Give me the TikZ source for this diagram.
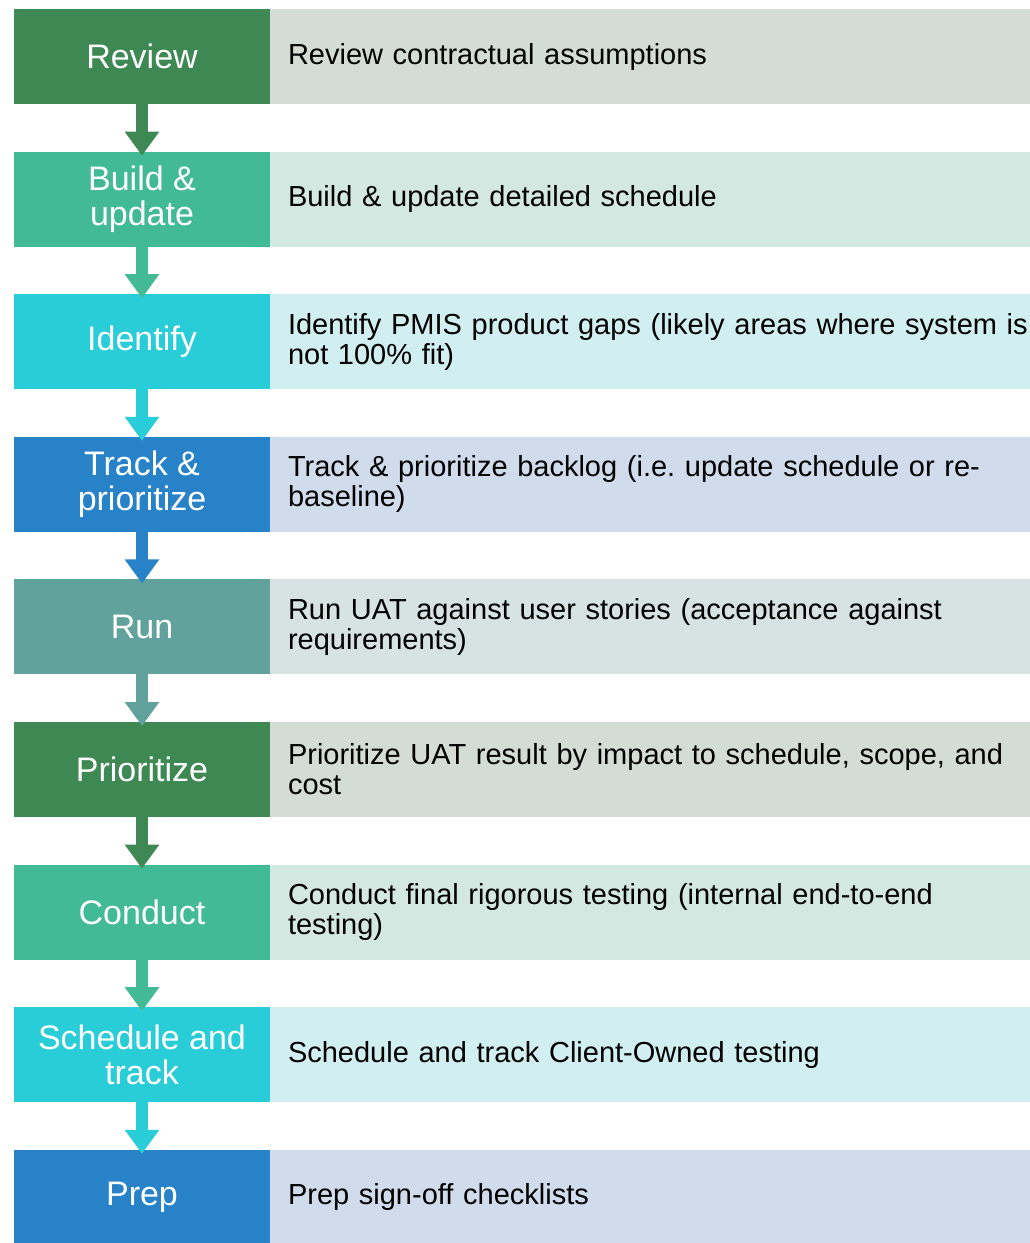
\documentclass[tikz,border=0pt]{standalone}
\usepackage{fontspec}
\setmainfont{Liberation Sans}
\frenchspacing
\definecolor{gdark}{HTML}{3E8853}
\definecolor{gdarkL}{HTML}{D3DDD5}
\definecolor{gteal}{HTML}{43BA96}
\definecolor{gtealL}{HTML}{D3E8E0}
\definecolor{ccyan}{HTML}{29CDD7}
\definecolor{ccyanL}{HTML}{D1EEF0}
\definecolor{bblue}{HTML}{2782C8}
\definecolor{bblueL}{HTML}{D0DCEC}
\definecolor{ggrey}{HTML}{62A29C}
\definecolor{ggreyL}{HTML}{D6E3E2}
\tikzstyle{stepbox}=[rectangle,minimum width=128pt,minimum height=47.5pt,
inner sep=0pt,outer sep=0pt,text=white,align=center,font=\fontsize{17pt}{17.5pt}\selectfont]
\tikzstyle{descbox}=[rectangle,minimum height=47.5pt,text width=385pt,
inner xsep=9pt,inner ysep=0pt,outer sep=0pt,align=left,font=\fontsize{14.5pt}{15pt}\selectfont]
\tikzstyle{flow}=[line width=6pt,-{Triangle[width=16.5pt,length=12pt]},shorten >=-2pt]
\usetikzlibrary{positioning,arrows.meta}

\begin{document}
\begin{tikzpicture}[node distance=23.8pt]
            \useasboundingbox (0,0) rectangle (514.5pt,-621.5pt);

            % STEP PART

            \node[stepbox,fill=gdark,anchor=north west] (s1) at (7pt,-4.5pt) {Review};
            \node[stepbox,fill=gteal,below=of s1] (s2) {Build \&\\update};
            \node[stepbox,fill=ccyan,below=of s2] (s3) {Identify};
            \node[stepbox,fill=bblue,below=of s3] (s4) {Track \&\\prioritize};
            \node[stepbox,fill=ggrey,below=of s4] (s5) {Run};
            \node[stepbox,fill=gdark,below=of s5] (s6) {Prioritize};
            \node[stepbox,fill=gteal,below=of s6] (s7) {Conduct};
            \node[stepbox,fill=ccyan,below=of s7] (s8) {Schedule and\\track};
            \node[stepbox,fill=bblue,below=of s8] (s9) {Prep};

            % DESCRIPTION PART

            \node[descbox,fill=gdarkL,right=0pt of s1] (d1) {Review contractual assumptions};
            \node[descbox,fill=gtealL,right=0pt of s2] (d2) {Build \& update detailed schedule};
            \node[descbox,fill=ccyanL,right=0pt of s3] (d3) {Identify PMIS product gaps (likely areas where system is\\not 100\% fit)};
            \node[descbox,fill=bblueL,right=0pt of s4] (d4) {Track \& prioritize backlog (i.e. update schedule or re-\\baseline)};
            \node[descbox,fill=ggreyL,right=0pt of s5] (d5) {Run UAT against user stories (acceptance against\\requirements)};
            \node[descbox,fill=gdarkL,right=0pt of s6] (d6) {Prioritize UAT result by impact to schedule, scope, and\\cost};
            \node[descbox,fill=gtealL,right=0pt of s7] (d7) {Conduct final rigorous testing (internal end-to-end\\testing)};
            \node[descbox,fill=ccyanL,right=0pt of s8] (d8) {Schedule and track Client-Owned testing};
            \node[descbox,fill=bblueL,right=0pt of s9] (d9) {Prep sign-off checklists};

            % FLOW PART

            \path (s1) edge[flow,gdark] (s2);
            \path (s2) edge[flow,gteal] (s3);
            \path (s3) edge[flow,ccyan] (s4);
            \path (s4) edge[flow,bblue] (s5);
            \path (s5) edge[flow,ggrey] (s6);
            \path (s6) edge[flow,gdark] (s7);
            \path (s7) edge[flow,gteal] (s8);
            \path (s8) edge[flow,ccyan] (s9);

        \end{tikzpicture}
\end{document}
